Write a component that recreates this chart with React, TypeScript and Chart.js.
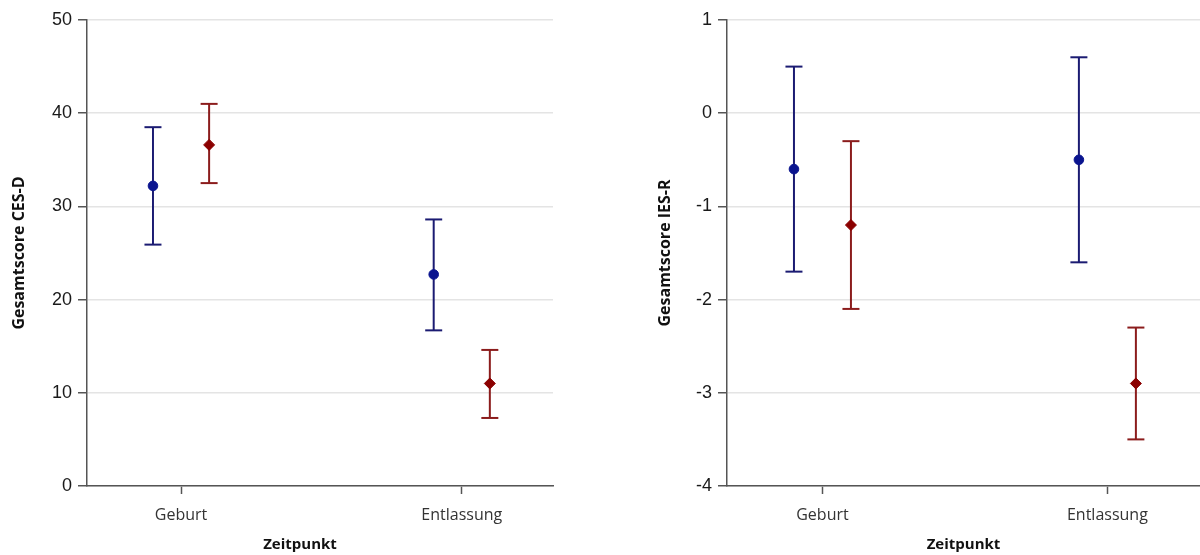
import React, { useEffect, useRef } from 'react';
import { Chart, registerables } from 'chart.js';

Chart.register(...registerables);

// ---------- data ----------
const categories = ['Geburt', 'Entlassung'];
const xAxisTitle = 'Zeitpunkt';

const cesdTitle = 'Gesamtscore CES-D';
const cesdMin = 0;
const cesdMax = 50;
const cesdStep = 10;
const cesdBlueMean = [32.2, 22.7];
const cesdBlueLower = [25.9, 16.7];
const cesdBlueUpper = [38.5, 28.6];
const cesdRedMean = [36.6, 11.0];
const cesdRedLower = [32.5, 7.3];
const cesdRedUpper = [41.0, 14.6];

const iesTitle = 'Gesamtscore IES-R';
const iesMin = -4;
const iesMax = 1;
const iesStep = 1;
const iesBlueMean = [-0.6, -0.5];
const iesBlueLower = [-1.7, -1.6];
const iesBlueUpper = [0.5, 0.6];
const iesRedMean = [-1.2, -2.9];
const iesRedLower = [-2.1, -3.5];
const iesRedUpper = [-0.3, -2.3];

// ---------- styling ----------
const BLUE_BAR = '#1b1b72';
const BLUE_PT = '#0a148f';
const RED_BAR = '#8b1c1c';
const RED_PT = '#8b0000';
const AXIS = '#555555';
const GRID = '#e4e4e4';
const X_MIN = 0.665;
const X_MAX = 2.325;
const DODGE = 0.1;

type Series = {
  mean: number[];
  lower: number[];
  upper: number[];
  barColor: string;
  pointColor: string;
  style: string;
  offset: number;
};

const xTitlePlugin = {
  id: 'xTitle',
  afterDraw(chart: any, _args: any, opts: any) {
    const ctx = chart.ctx;
    ctx.save();
    ctx.font = 'bold 15px "Open Sans"';
    ctx.fillStyle = '#111';
    ctx.textAlign = 'center';
    ctx.textBaseline = 'middle';
    const x =
      opts.mode === 'canvas'
        ? chart.width / 2
        : (chart.chartArea.left + chart.chartArea.right) / 2;
    ctx.fillText(opts.text, x, opts.y);
    ctx.restore();
  },
};

function makeConfig(
  series: Series[],
  yTitle: string,
  yMin: number,
  yMax: number,
  yStep: number,
  yWidth: number,
  titlePad: number,
  rightPad: number,
  titleMode: string
): any {
  const datasets: any[] = [];
  series.forEach((s) => {
    datasets.push({
      type: 'scatter',
      data: s.mean.map((v, i) => ({ x: i + 1 + s.offset, y: v })),
      showLine: false,
      pointStyle: s.style,
      pointRadius: s.style === 'circle' ? 4.8 : 5.5,
      pointBackgroundColor: s.pointColor,
      pointBorderColor: s.pointColor,
      pointBorderWidth: 1,
    });
  });
  series.forEach((s) => {
    s.mean.forEach((_v, i) => {
      datasets.push({
        type: 'scatter',
        data: [
          { x: i + 1 + s.offset, y: s.lower[i] },
          { x: i + 1 + s.offset, y: s.upper[i] },
        ],
        showLine: true,
        borderColor: s.barColor,
        borderWidth: 2,
        pointStyle: 'line',
        pointRadius: 8.5,
        pointBorderColor: s.barColor,
        pointBackgroundColor: s.barColor,
        pointBorderWidth: 2,
      });
    });
  });

  return {
    type: 'scatter',
    data: { datasets },
    plugins: [xTitlePlugin],
    options: {
      responsive: false,
      animation: false,
      devicePixelRatio: 1,
      events: [],
      layout: { autoPadding: false, padding: { top: 20, left: 0, right: rightPad, bottom: 0 } },
      plugins: {
        legend: { display: false },
        tooltip: { enabled: false },
        xTitle: { text: xAxisTitle, y: 545, mode: titleMode },
      },
      scales: {
        x: {
          type: 'linear',
          min: X_MIN,
          max: X_MAX,
          afterBuildTicks: (scale: any) => {
            scale.ticks = categories.map((_c, i) => ({ value: i + 1 }));
          },
          afterFit: (scale: any) => {
            scale.height = 69;
          },
          ticks: {
            callback: (v: any) => categories[Math.round(v) - 1] ?? '',
            font: { family: 'Open Sans', size: 16 },
            color: '#333',
            padding: 12,
            maxRotation: 0,
          },
          grid: {
            drawOnChartArea: false,
            drawTicks: true,
            tickLength: 8,
            tickColor: AXIS,
            tickWidth: 1.5,
          },
          border: { color: AXIS, width: 1.5 },
        },
        y: {
          min: yMin,
          max: yMax,
          afterFit: (scale: any) => {
            scale.width = yWidth;
          },
          ticks: {
            stepSize: yStep,
            font: { family: 'Liberation Sans', size: 18 },
            color: '#1a1a1a',
            padding: 6,
          },
          grid: {
            color: GRID,
            lineWidth: 1.5,
            drawTicks: true,
            tickLength: 9,
            tickColor: AXIS,
            tickWidth: 1.5,
          },
          border: { color: AXIS, width: 1.5 },
          title: {
            display: true,
            text: yTitle,
            font: { family: 'Open Sans', weight: 'bold', size: 16 },
            color: '#111',
            padding: { top: titlePad, bottom: 0 },
          },
        },
      },
    },
  };
}

export default function App() {
  const leftRef = useRef<HTMLCanvasElement | null>(null);
  const rightRef = useRef<HTMLCanvasElement | null>(null);

  useEffect(() => {
    const left = new Chart(
      leftRef.current as HTMLCanvasElement,
      makeConfig(
        [
          { mean: cesdBlueMean, lower: cesdBlueLower, upper: cesdBlueUpper, barColor: BLUE_BAR, pointColor: BLUE_PT, style: 'circle', offset: -DODGE },
          { mean: cesdRedMean, lower: cesdRedLower, upper: cesdRedUpper, barColor: RED_BAR, pointColor: RED_PT, style: 'rectRot', offset: DODGE },
        ],
        cesdTitle, cesdMin, cesdMax, cesdStep, 87, 10, 47, 'canvas'
      )
    );
    const right = new Chart(
      rightRef.current as HTMLCanvasElement,
      makeConfig(
        [
          { mean: iesBlueMean, lower: iesBlueLower, upper: iesBlueUpper, barColor: BLUE_BAR, pointColor: BLUE_PT, style: 'circle', offset: -DODGE },
          { mean: iesRedMean, lower: iesRedLower, upper: iesRedUpper, barColor: RED_BAR, pointColor: RED_PT, style: 'rectRot', offset: DODGE },
        ],
        iesTitle, iesMin, iesMax, iesStep, 127, 56, 0, 'area'
      )
    );
    return () => {
      left.destroy();
      right.destroy();
    };
  }, []);

  return (
    <div style={{ position: 'absolute', left: 0, top: 0, width: 1200, height: 555, background: '#fff', overflow: 'hidden' }}>
      <canvas ref={leftRef} width={600} height={555} style={{ position: 'absolute', left: 0, top: 0 }} />
      <canvas ref={rightRef} width={600} height={555} style={{ position: 'absolute', left: 600, top: 0 }} />
    </div>
  );
}
